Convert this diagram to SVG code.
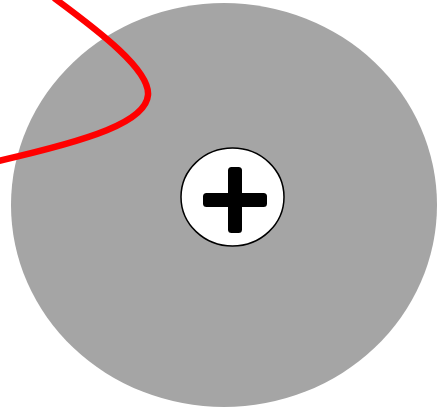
<svg xmlns="http://www.w3.org/2000/svg" width="448" height="409" viewBox="0 0 448 409">
<style>
.disc{fill:#a5a5a5}
.hub{fill:#fff;stroke:#000;stroke-width:1.5}
.plus{fill:#000}
.wire{fill:none;stroke:#ff0000;stroke-width:6.5}
</style>
<rect width="448" height="409" fill="#fff"/>
<g id="disc"><ellipse class="disc" cx="224" cy="205" rx="213" ry="202"/></g>
<g id="terminal">
<ellipse class="hub" cx="232.5" cy="197" rx="51.5" ry="49"/>
<rect class="plus" x="228" y="167" width="14" height="66" rx="3.5"/>
<rect class="plus" x="203" y="193" width="64" height="14" rx="3.5"/>
</g>
<g id="connectors">
<path class="wire" d="M 54,-2 C 100,32 150,70 148,95 C 146,122 90,140 -2,161"/>
</g>
</svg>
